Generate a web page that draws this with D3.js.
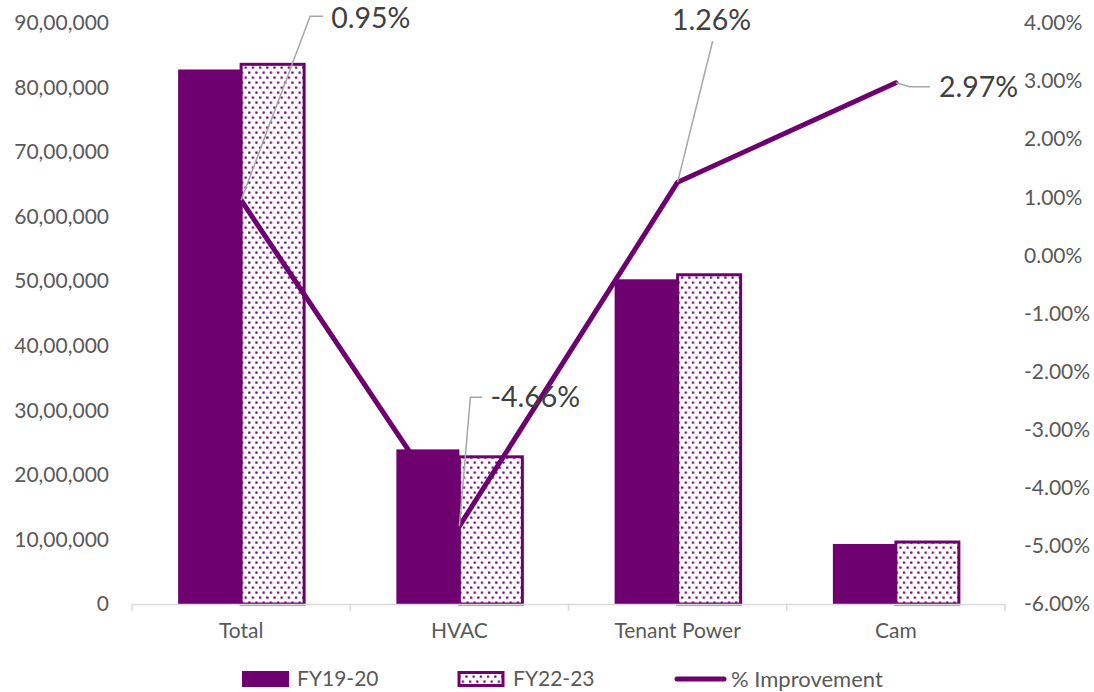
<!DOCTYPE html>
<html>
<head>
<meta charset="utf-8">
<script src="https://cdn.jsdelivr.net/npm/d3@7"></script>
<style>
  html, body { margin: 0; padding: 0; background: #ffffff; }
  svg { display: block; font-family: Lato, "Open Sans", sans-serif; }
</style>
</head>
<body>
<svg id="chart" width="1094" height="692"></svg>
<script>
// Energy consumption by category, two fiscal years, plus % improvement
const categories = ["Total", "HVAC", "Tenant Power", "Cam"];
const seriesNames = ["FY19-20", "FY22-23"];
const fy1920 = [8280000, 2395000, 5030000, 930000];
const fy2223 = [8360000, 2280000, 5100000, 960000];
const improvement = [0.95, -4.66, 1.26, 2.97];
const leftTicks = [0, 1000000, 2000000, 3000000, 4000000, 5000000, 6000000, 7000000, 8000000, 9000000];
const rightTicks = [-6, -5, -4, -3, -2, -1, 0, 1, 2, 3, 4];
const improvementLabel = "% Improvement";

const purple = "#6f006f";
const axisText = "#595959";
const labelText = "#404040";
const gridGray = "#d9d9d9";
const leaderGray = "#a6a6a6";
const axisFont = 21;
const labelFont = 28.5;

const svg = d3.select("#chart");
const plot = { left: 132, right: 1005, top: 23, bottom: 604 };

// Scales
const x0 = d3.scaleBand().domain(categories).range([plot.left, plot.right]).padding(0);
const x1 = d3.scaleBand().domain(seriesNames).range([0, x0.bandwidth()])
  .paddingInner(0).paddingOuter(0.732);
const yLeft = d3.scaleLinear().domain([0, 9000000]).range([plot.bottom, plot.top]);
const yRight = d3.scaleLinear().domain([-6, 4]).range([plot.bottom, plot.top]);

// Indian digit grouping: 90,00,000
function indianFormat(v) {
  const s = String(Math.round(v));
  if (s.length <= 3) return s;
  const last3 = s.slice(-3);
  let rest = s.slice(0, -3);
  const parts = [];
  while (rest.length > 2) { parts.unshift(rest.slice(-2)); rest = rest.slice(0, -2); }
  if (rest.length) parts.unshift(rest);
  return parts.join(",") + "," + last3;
}

// Dotted fill pattern for the second series
const defs = svg.append("defs");
const pat = defs.append("pattern")
  .attr("id", "dots").attr("patternUnits", "userSpaceOnUse")
  .attr("width", 7.2).attr("height", 10);
pat.append("rect").attr("width", 7.2).attr("height", 10).attr("fill", "#ffffff");
pat.append("rect").attr("x", 1).attr("y", 1.5).attr("width", 2.2).attr("height", 2.2).attr("fill", purple);
pat.append("rect").attr("x", 4.6).attr("y", 6.5).attr("width", 2.2).attr("height", 2.2).attr("fill", purple);

// Left axis
const leftAxis = d3.axisLeft(yLeft).tickValues(leftTicks).tickFormat(indianFormat).tickSize(0).tickPadding(0);
const gL = svg.append("g").attr("transform", `translate(${plot.left - 23},0)`).call(leftAxis);
gL.select(".domain").remove();
gL.selectAll("text").attr("fill", axisText).attr("font-size", axisFont).attr("font-family", "Lato");

// Right axis
const rightAxis = d3.axisRight(yRight).tickValues(rightTicks)
  .tickFormat(d => d.toFixed(2) + "%").tickSize(0).tickPadding(0);
const gR = svg.append("g").attr("transform", `translate(${plot.right + 19},0)`).call(rightAxis);
gR.select(".domain").remove();
gR.selectAll("text").attr("fill", axisText).attr("font-size", axisFont).attr("font-family", "Lato");

// Bars
const groups = svg.append("g").selectAll("g").data(categories).join("g")
  .attr("transform", d => `translate(${x0(d)},0)`);

groups.append("rect")
  .attr("x", x1("FY19-20"))
  .attr("y", (d, i) => yLeft(fy1920[i]))
  .attr("width", x1.bandwidth())
  .attr("height", (d, i) => yLeft(0) - yLeft(fy1920[i]))
  .attr("fill", purple);

groups.append("rect")
  .attr("x", x1("FY22-23"))
  .attr("y", (d, i) => yLeft(fy2223[i]))
  .attr("width", x1.bandwidth())
  .attr("height", (d, i) => yLeft(0) - yLeft(fy2223[i]))
  .attr("fill", "url(#dots)")
  .attr("stroke", purple).attr("stroke-width", 3);

// Category axis
const bottomAxis = d3.axisBottom(x0).tickSize(0).tickPadding(0);
const gB = svg.append("g").attr("transform", `translate(0,${plot.bottom})`);
gB.append("line").attr("x1", plot.left).attr("x2", plot.right)
  .attr("y1", 0.5).attr("y2", 0.5).attr("stroke", gridGray).attr("stroke-width", 1.5);
gB.selectAll("line.tick").data(d3.range(categories.length + 1)).join("line")
  .attr("class", "tick")
  .attr("x1", i => plot.left + i * x0.step()).attr("x2", i => plot.left + i * x0.step())
  .attr("y1", 0).attr("y2", 7).attr("stroke", gridGray).attr("stroke-width", 1.5);
const gBL = svg.append("g").attr("transform", `translate(0,${plot.bottom + 19})`).call(bottomAxis);
gBL.select(".domain").remove();
gBL.selectAll("text").attr("fill", axisText).attr("font-size", axisFont).attr("font-family", "Lato");

// Improvement line
const pts = categories.map((c, i) => [x0(c) + x0.bandwidth() / 2, yRight(improvement[i])]);
svg.append("path")
  .attr("d", d3.line()(pts))
  .attr("fill", "none").attr("stroke", purple).attr("stroke-width", 5)
  .attr("stroke-linejoin", "round").attr("stroke-linecap", "round");

// Data labels with leader lines (offsets relative to each point)
const labelOffsets = [
  { elbow: [69, -184], end: [82, -184], text: [90, -182] },
  { elbow: [11, -129], end: [23, -129], text: [31, -129] },
  { elbow: [35, -141], end: [35, -141], text: [34, -162], middle: true },
  { elbow: [14, 4], end: [34, 4], text: [43, 4] }
];
const labels = svg.append("g");
pts.forEach((p, i) => {
  const o = labelOffsets[i];
  const path = [p, [p[0] + o.elbow[0], p[1] + o.elbow[1]], [p[0] + o.end[0], p[1] + o.end[1]]];
  labels.append("path").attr("d", d3.line()(path))
    .attr("fill", "none").attr("stroke", leaderGray).attr("stroke-width", 1.5);
  labels.append("text")
    .attr("x", p[0] + o.text[0]).attr("y", p[1] + o.text[1])
    .attr("dy", "0.35em")
    .attr("text-anchor", o.middle ? "middle" : "start")
    .attr("fill", labelText).attr("font-size", labelFont).attr("font-family", "Lato")
    .text(improvement[i].toFixed(2) + "%");
});

// Legend
const legend = svg.append("g").attr("transform", "translate(0,679)");
legend.append("rect").attr("x", 242).attr("y", -8).attr("width", 47).attr("height", 16).attr("fill", purple);
legend.append("text").attr("x", 297).attr("y", 0).attr("dy", "0.35em")
  .attr("fill", axisText).attr("font-size", axisFont).text(seriesNames[0]);
legend.append("rect").attr("x", 459).attr("y", -6.5).attr("width", 44).attr("height", 13)
  .attr("fill", "url(#dots)").attr("stroke", purple).attr("stroke-width", 3);
legend.append("text").attr("x", 513).attr("y", 0).attr("dy", "0.35em")
  .attr("fill", axisText).attr("font-size", axisFont).text(seriesNames[1]);
legend.append("line").attr("x1", 677).attr("x2", 724).attr("y1", 0).attr("y2", 0)
  .attr("stroke", purple).attr("stroke-width", 5).attr("stroke-linecap", "round");
legend.append("text").attr("x", 731).attr("y", 0).attr("dy", "0.35em")
  .attr("fill", axisText).attr("font-size", axisFont + 1).text(improvementLabel);
</script>
</body>
</html>
